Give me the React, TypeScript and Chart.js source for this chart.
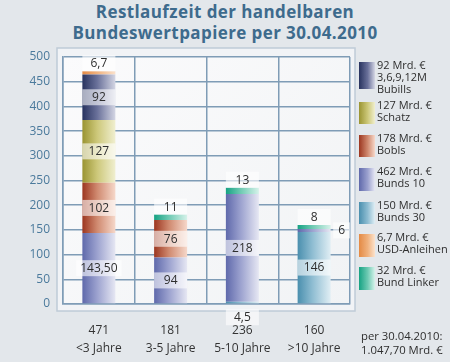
import React, { useEffect, useRef } from "react";
import { Chart, registerables } from "chart.js";

Chart.register(...registerables);

// ---------- data ----------
const categories = ["<3 Jahre", "3-5 Jahre", "5-10 Jahre", ">10 Jahre"];
const totals = ["471", "181", "236", "160"];

const bunds30 = [null, null, 4.5, 146];
const bunds10 = [143.5, 94, 218, 6];
const bobls = [102, 76, null, null];
const schatz = [127, null, null, null];
const bubills = [92, null, null, null];
const usdAnleihen = [6.7, null, null, null];
const bundLinker = [null, 11, 13, 8];

const bunds30Labels = ["", "", "4,5", "146"];
const bunds10Labels = ["143,50", "94", "218", "6"];
const boblsLabels = ["102", "76", "", ""];
const schatzLabels = ["127", "", "", ""];
const bubillsLabels = ["92", "", "", ""];
const usdLabels = ["6,7", "", "", ""];
const linkerLabels = ["", "11", "13", "8"];

const yTicksMax = 500;
const yTickStep = 50;

const legendItems = [
  { key: "bubills", lines: ["92 Mrd. €", "3,6,9,12M", "Bubills"] },
  { key: "schatz", lines: ["127 Mrd. €", "Schatz"] },
  { key: "bobls", lines: ["178 Mrd. €", "Bobls"] },
  { key: "bunds10", lines: ["462 Mrd. €", "Bunds 10"] },
  { key: "bunds30", lines: ["150 Mrd. €", "Bunds 30"] },
  { key: "usd", lines: ["6,7 Mrd. €", "USD-Anleihen"] },
  { key: "linker", lines: ["32 Mrd. €", "Bund Linker"] },
];
const footnote = ["per 30.04.2010:", "1.047,70 Mrd. €"];
const titleLines = ["Restlaufzeit der handelbaren", "Bundeswertpapiere per 30.04.2010"];

// ---------- styles ----------
const FONT = "'Open Sans', 'Noto Sans', 'DejaVu Sans', sans-serif";
const palette: Record<string, [string, string, string]> = {
  bubills: ["#28335f", "#6a719a", "#d4d6e4"],
  schatz: ["#9a9432", "#cdc87a", "#f0efd0"],
  bobls: ["#9c3620", "#d08a70", "#f6d8ca"],
  bunds10: ["#5f69ab", "#9ca2cf", "#e6e7f3"],
  bunds30: ["#4a8fae", "#8fbdd2", "#e0eef4"],
  usd: ["#e48a44", "#f0b27e", "#fbe2cc"],
  linker: ["#16a283", "#6fcab3", "#d6f2ea"],
};
const gridColor = "#7f9cb6";
const BAR_PCT = 0.46;

const positions: Record<string, string[]> = {
  // label placement per dataset per category
  bunds30: ["", "", "below", "center"],
  bunds10: ["center", "center", "center", "right"],
  bobls: ["center", "center", "", ""],
  schatz: ["center", "", "", ""],
  bubills: ["center", "", "", ""],
  usd: ["above", "", "", ""],
  linker: ["", "above", "above", "above"],
};

function gradientFor(key: string) {
  return (ctx: any) => {
    const chart = ctx.chart;
    const xs = chart.scales && chart.scales.x;
    const [d, m, l] = palette[key];
    if (!xs || ctx.dataIndex === undefined || !isFinite(xs.width)) return m;
    const cx = xs.getPixelForValue(ctx.dataIndex);
    const half = ((xs.width / categories.length) * BAR_PCT) / 2;
    if (!isFinite(cx) || !isFinite(half)) return m;
    const g = chart.ctx.createLinearGradient(cx - half, 0, cx + half, 0);
    g.addColorStop(0, d);
    g.addColorStop(0.45, m);
    g.addColorStop(1, l);
    return g;
  };
}

const panelPlugin = {
  id: "panel",
  beforeDraw(chart: any) {
    const { ctx, chartArea } = chart;
    const { left, top, right, bottom } = chartArea;
    ctx.save();
    ctx.fillStyle = "#f1f3f6";
    ctx.fillRect(left - 6, top - 9, right - left + 11, bottom - top + 16);
    ctx.strokeStyle = "#bfcbd7";
    ctx.lineWidth = 1.5;
    ctx.strokeRect(left - 6, top - 9, right - left + 11, bottom - top + 16);
    const g = ctx.createLinearGradient(left, top, right, bottom);
    g.addColorStop(0, "#fbfbfc");
    g.addColorStop(1, "#f1f3f5");
    ctx.fillStyle = g;
    ctx.fillRect(left, top, right - left, bottom - top);
    ctx.restore();
  },
};

const labelPlugin = {
  id: "segLabels",
  afterDatasetsDraw(chart: any) {
    const { ctx } = chart;
    ctx.save();
    ctx.font = `12px ${FONT}`;
    ctx.textAlign = "center";
    ctx.textBaseline = "middle";
    chart.data.datasets.forEach((ds: any, di: number) => {
      const meta = chart.getDatasetMeta(di);
      ds.segLabels.forEach((text: string, i: number) => {
        if (!text) return;
        const el: any = meta.data[i];
        if (!el) return;
        const pos = positions[ds.key][i];
        const top = Math.min(el.y, el.base);
        const bot = Math.max(el.y, el.base);
        let x = el.x;
        let y = (top + bot) / 2;
        if (pos === "above") y = top - 8;
        if (pos === "below") y = bot + 14;
        const tw = ctx.measureText(text).width;
        let bw = Math.max(el.width, tw + 8);
        if (pos === "right") {
          bw = tw + 10;
          x = el.x + el.width / 2 + 11;
        }
        ctx.fillStyle = "rgba(255,255,255,0.6)";
        ctx.fillRect(x - bw / 2, y - 8, bw, 16);
        ctx.fillStyle = "#2e2e2e";
        ctx.fillText(text, x, y + 0.5);
      });
    });
    ctx.restore();
  },
};

function makeDataset(key: string, label: string, data: (number | null)[], segLabels: string[]) {
  return {
    key,
    label,
    data,
    segLabels,
    backgroundColor: gradientFor(key),
    borderWidth: 0,
    barPercentage: BAR_PCT,
    categoryPercentage: 1,
  };
}

export default function App() {
  const canvasRef = useRef<HTMLCanvasElement | null>(null);

  useEffect(() => {
    document.body.style.margin = "0";
    const canvas = canvasRef.current;
    if (!canvas) return;
    const datasets: any[] = [
      makeDataset("bunds30", "Bunds 30", bunds30, bunds30Labels),
      makeDataset("bunds10", "Bunds 10", bunds10, bunds10Labels),
      makeDataset("bobls", "Bobls", bobls, boblsLabels),
      makeDataset("schatz", "Schatz", schatz, schatzLabels),
      makeDataset("bubills", "Bubills", bubills, bubillsLabels),
      makeDataset("usd", "USD-Anleihen", usdAnleihen, usdLabels),
      makeDataset("linker", "Bund Linker", bundLinker, linkerLabels),
    ];
    const chart = new Chart(canvas, {
      type: "bar",
      data: {
        labels: categories.map((c, i) => [totals[i], c]),
        datasets,
      },
      options: {
        animation: false,
        responsive: false,
        maintainAspectRatio: false,
        layout: { padding: { top: 57, right: 100, left: 0, bottom: 0 } },
        plugins: {
          legend: { display: false },
          tooltip: { enabled: false },
          title: { display: false },
        },
        scales: {
          x: {
            stacked: true,
            offset: true,
            grid: { offset: true, color: gridColor, lineWidth: 1.5, drawTicks: false },
            border: { color: gridColor, width: 1.5 },
            ticks: {
              color: "#333333",
              font: { family: FONT, size: 12, lineHeight: 1.45 },
              padding: 18,
              maxRotation: 0,
            },
            afterFit: (s: any) => {
              s.height = 58;
            },
          },
          y: {
            stacked: true,
            min: 0,
            max: yTicksMax,
            ticks: {
              stepSize: yTickStep,
              color: "#4b7a9c",
              font: { family: FONT, size: 12 },
              padding: 13,
            },
            grid: { color: gridColor, lineWidth: 1.5, drawTicks: false },
            border: { color: gridColor, width: 1.5 },
            afterFit: (s: any) => {
              s.width = 63;
            },
          },
        },
      } as any,
      plugins: [panelPlugin, labelPlugin],
    });
    return () => chart.destroy();
  }, []);

  const legendTops = [62, 102, 135, 168, 202, 234, 267];
  const swatchH = [27, 22, 22, 23, 22, 23, 23];

  return (
    <div
      style={{
        position: "relative",
        width: 450,
        height: 362,
        background: "#e3e7eb",
        fontFamily: FONT,
        overflow: "hidden",
      }}
    >
      <div
        style={{
          position: "absolute",
          top: 1,
          left: 0,
          width: 450,
          textAlign: "center",
          color: "#3e6b8d",
          fontWeight: 700,
          fontSize: 17,
          lineHeight: "21px",
          letterSpacing: 0.4,
        }}
      >
        {titleLines.map((t) => (
          <div key={t}>{t}</div>
        ))}
      </div>
      <canvas
        ref={canvasRef}
        width={450}
        height={362}
        style={{ position: "absolute", left: 0, top: 0, width: 450, height: 362 }}
      />
      {legendItems.map((it, i) => {
        const [d, m, l] = palette[it.key];
        return (
          <div key={it.key}>
            <div
              style={{
                position: "absolute",
                left: 359,
                top: legendTops[i],
                width: 16,
                height: swatchH[i],
                background: `linear-gradient(to right, ${d}, ${m} 55%, ${l})`,
              }}
            />
            <div
              style={{
                position: "absolute",
                left: 377,
                top: legendTops[i] - 3,
                fontSize: 11,
                lineHeight: "12px",
                color: "#2e2e2e",
                whiteSpace: "nowrap",
              }}
            >
              {it.lines.map((ln) => (
                <div key={ln}>{ln}</div>
              ))}
            </div>
          </div>
        );
      })}
      <div
        style={{
          position: "absolute",
          left: 361,
          top: 329,
          fontSize: 11.3,
          lineHeight: "14px",
          color: "#2e2e2e",
          whiteSpace: "nowrap",
        }}
      >
        {footnote.map((ln) => (
          <div key={ln}>{ln}</div>
        ))}
      </div>
    </div>
  );
}
